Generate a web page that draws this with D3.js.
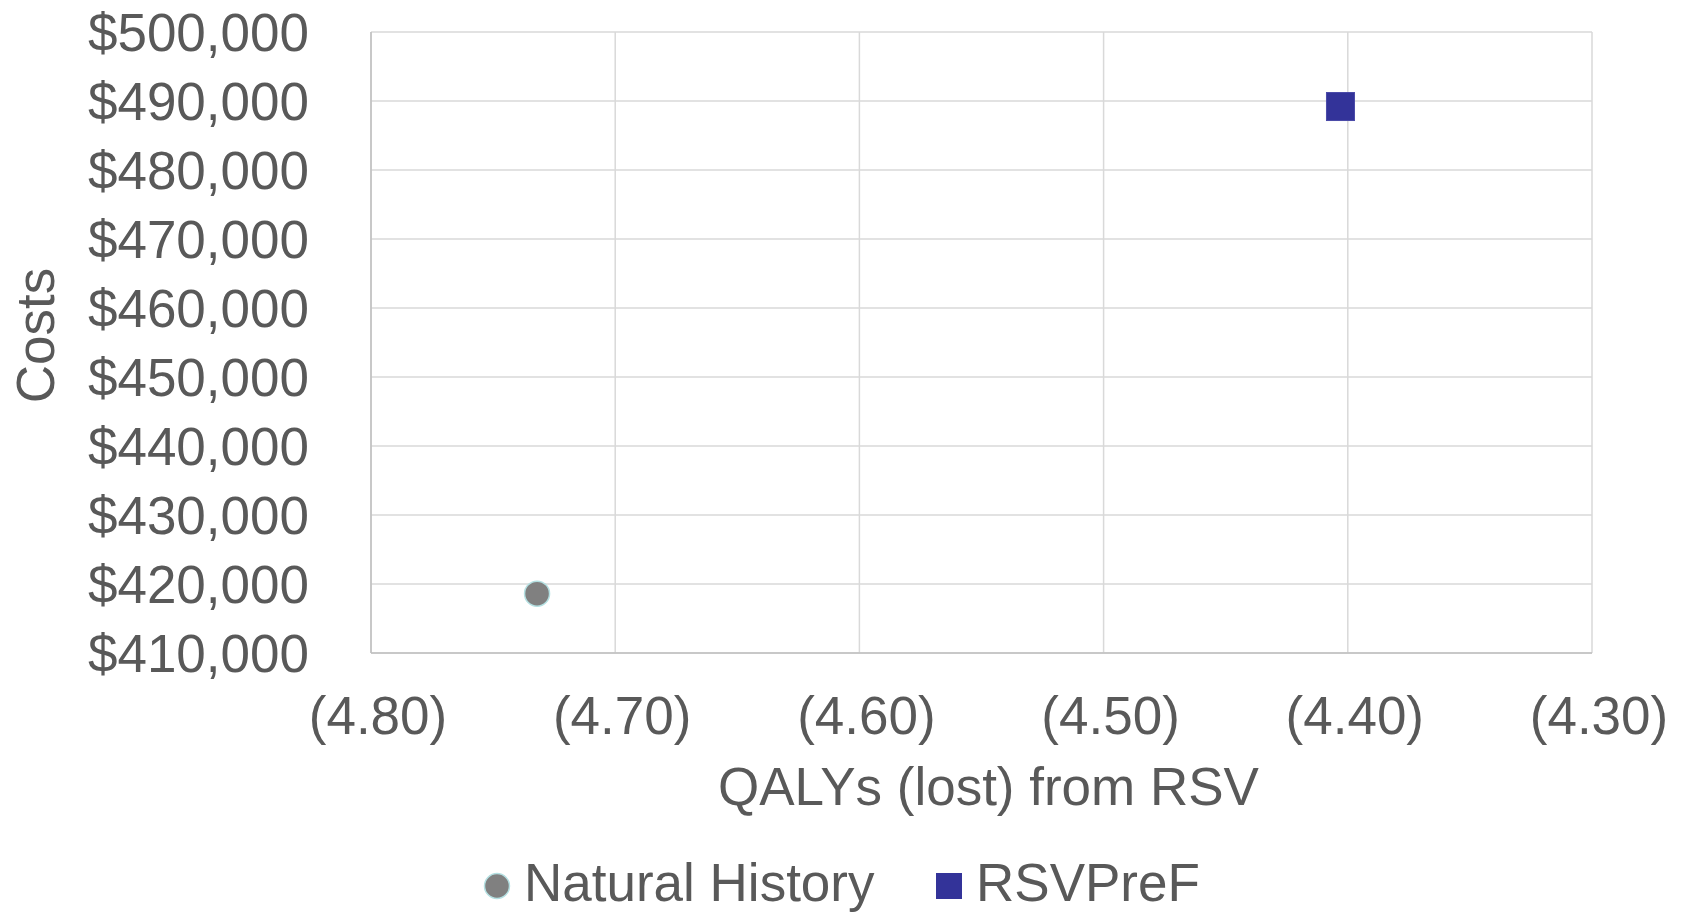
<!DOCTYPE html>
<html>
<head>
<meta charset="utf-8">
<script src="https://cdn.jsdelivr.net/npm/d3@7"></script>
<style>
  html, body { margin: 0; padding: 0; background: #fff; }
  svg { display: block; font-family: "Liberation Sans", Arial, sans-serif; }
</style>
</head>
<body>
<svg id="chart" width="1684" height="913"></svg>
<script>
// Strategy results: QALYs lost (negative) vs. total costs
const seriesNames = ["Natural History", "RSVPreF"];
const qalys = [-4.732, -4.403];
const costs = [418600, 489200];
const xTicks = [-4.80, -4.70, -4.60, -4.50, -4.40, -4.30];
const yTicks = [410000, 420000, 430000, 440000, 450000, 460000, 470000, 480000, 490000, 500000];

const textColor = "#595959";
const fontSize = 53;
const margin = { left: 371, right: 92, top: 32, bottom: 260 };
const W = 1684, H = 913;

const svg = d3.select("#chart");
const x = d3.scaleLinear().domain([-4.80, -4.30]).range([margin.left, W - margin.right]);
const y = d3.scaleLinear().domain([410000, 500000]).range([H - margin.bottom, margin.top]);

// gridlines
svg.append("g").selectAll("line.h").data(yTicks).join("line")
  .attr("x1", x(-4.80)).attr("x2", x(-4.30))
  .attr("y1", d => y(d)).attr("y2", d => y(d))
  .attr("stroke", "#d9d9d9").attr("stroke-width", 1.5);
svg.append("g").selectAll("line.v").data(xTicks).join("line")
  .attr("x1", d => x(d)).attr("x2", d => x(d))
  .attr("y1", y(410000)).attr("y2", y(500000))
  .attr("stroke", "#d9d9d9").attr("stroke-width", 1.5);

// axis lines
svg.append("line").attr("x1", x(-4.80)).attr("x2", x(-4.80))
  .attr("y1", y(500000)).attr("y2", y(410000))
  .attr("stroke", "#bfbfbf").attr("stroke-width", 1.5);
svg.append("line").attr("x1", x(-4.80)).attr("x2", x(-4.30))
  .attr("y1", y(410000)).attr("y2", y(410000))
  .attr("stroke", "#bfbfbf").attr("stroke-width", 1.5);

// tick labels
const fmtMoney = d => "$" + d3.format(",")(d);
const fmtQ = d => "(" + d3.format(".2f")(Math.abs(d)) + ")";

svg.append("g").selectAll("text").data(yTicks).join("text")
  .attr("x", 309).attr("y", d => y(d))
  .attr("dy", "0.36em")
  .attr("text-anchor", "end")
  .attr("font-size", fontSize).attr("fill", textColor)
  .text(fmtMoney);

svg.append("g").selectAll("text").data(xTicks).join("text")
  .attr("x", d => x(d) + 7).attr("y", 734)
  .attr("text-anchor", "middle")
  .attr("font-size", fontSize).attr("fill", textColor)
  .text(fmtQ);

// axis titles
svg.append("text")
  .attr("x", (x(-4.80) + x(-4.30)) / 2 + 7).attr("y", 805)
  .attr("text-anchor", "middle")
  .attr("font-size", fontSize).attr("fill", textColor)
  .text("QALYs (lost) from RSV");

svg.append("text")
  .attr("transform", `translate(54, ${(y(410000) + y(500000)) / 2 - 7}) rotate(-90)`)
  .attr("text-anchor", "middle")
  .attr("font-size", fontSize).attr("fill", textColor)
  .text("Costs");

// points
svg.append("circle")
  .attr("cx", x(qalys[0])).attr("cy", y(costs[0])).attr("r", 12.5)
  .attr("fill", "#808080").attr("stroke", "#b4e0e2").attr("stroke-width", 1.5);

const sq = 28;
svg.append("rect")
  .attr("x", x(qalys[1]) - sq / 2).attr("y", y(costs[1]) - sq / 2)
  .attr("width", sq).attr("height", sq)
  .attr("fill", "#333399").attr("stroke", "#4a4aa8").attr("stroke-width", 1);

// legend (baseline sits near the bottom edge)
const legBase = 901;
const legMid = 886;
svg.append("circle").attr("cx", 497).attr("cy", legMid).attr("r", 12.5)
  .attr("fill", "#808080").attr("stroke", "#b4e0e2").attr("stroke-width", 1.5);
svg.append("text").attr("x", 524).attr("y", legBase)
  .attr("font-size", fontSize).attr("fill", textColor).text(seriesNames[0]);
svg.append("rect").attr("x", 936).attr("y", legMid - 13).attr("width", 26).attr("height", 26)
  .attr("fill", "#333399");
svg.append("text").attr("x", 976).attr("y", legBase)
  .attr("font-size", fontSize).attr("fill", textColor).text(seriesNames[1]);
</script>
</body>
</html>
